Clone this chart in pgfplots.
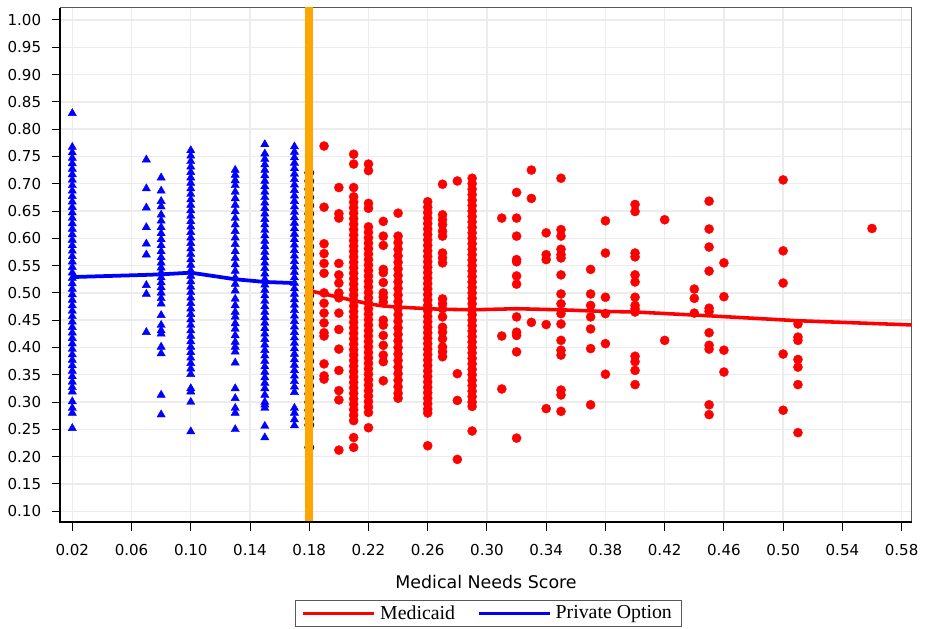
\documentclass[border=0pt]{standalone}
\usepackage{fontspec}
\setmainfont{DejaVu Sans}
\newfontfamily\legfont{Liberation Serif}
\usepackage{pgfplots}
\pgfplotsset{compat=1.18}
\definecolor{po}{RGB}{0,0,255}
\definecolor{md}{RGB}{255,0,0}
\definecolor{orng}{RGB}{255,165,0}
\begin{document}
\begin{tikzpicture}
\begin{axis}[name=ax, scale only axis, width=429.5pt, height=259.5pt,
 clip marker paths=true,
 xmin=0.012, xmax=0.5867, ymin=0.08, ymax=1.022,
 xtick={0.02,0.06,0.10,0.14,0.18,0.22,0.26,0.30,0.34,0.38,0.42,0.46,0.50,0.54,0.58},
 ytick={0.10,0.15,0.20,0.25,0.30,0.35,0.40,0.45,0.50,0.55,0.60,0.65,0.70,0.75,0.80,0.85,0.90,0.95,1.00},
 /pgf/number format/assume math mode=true,
 xticklabel style={/pgf/number format/fixed, /pgf/number format/fixed zerofill, /pgf/number format/precision=2, yshift=-3.3pt},
 yticklabel style={/pgf/number format/fixed, /pgf/number format/fixed zerofill, /pgf/number format/precision=2, xshift=-1.7pt},
 tick align=outside, tick pos=left, major tick length=4.5pt, tick style={black, line width=0.5pt},
 grid=major, major grid style={draw=gray!15, line width=0.7pt},
 axis line style={draw=gray!70!black, line width=0.5pt},
 tick label style={font=\fontsize{7.6}{9}\selectfont},
 xlabel={Medical Needs Score},
 xlabel style={font=\fontsize{8.8}{10}\selectfont, at={(axis description cs:0.5,-0.117)}, anchor=center},
 legend style={at={(axis description cs:0.503,-0.178)}, anchor=center, legend columns=2, draw=gray!70!black, line width=0.6pt, font=\legfont\fontsize{10}{11.5}\selectfont, inner xsep=3pt, inner ysep=0.3pt, /tikz/every even column/.append style={column sep=9pt}},
 legend image code/.code={\draw[#1, line width=1.8pt] (0pt,0pt) -- (36pt,0pt);},
]
\addlegendimage{md}
\addlegendentry{Medicaid}
\addlegendimage{po}
\addlegendentry{Private Option}
% Private Option points
\addplot[only marks, mark=triangle*, mark size=2.4pt, color=po, mark options={line width=0.2pt}, forget plot] coordinates {
(0.02,0.829)(0.02,0.767)(0.02,0.757)(0.02,0.747)(0.02,0.737)(0.02,0.727)(0.02,0.717)(0.02,0.707)(0.02,0.697)(0.02,0.687)(0.02,0.677)(0.02,0.667)(0.02,0.657)(0.02,0.647)(0.02,0.637)(0.02,0.627)(0.02,0.617)(0.02,0.607)(0.02,0.597)(0.02,0.587)(0.02,0.577)(0.02,0.567)(0.02,0.557)(0.02,0.547)(0.02,0.537)(0.02,0.527)(0.02,0.517)(0.02,0.507)(0.02,0.497)(0.02,0.487)(0.02,0.477)(0.02,0.467)(0.02,0.457)(0.02,0.447)(0.02,0.437)(0.02,0.427)(0.02,0.417)(0.02,0.407)(0.02,0.397)(0.02,0.387)(0.02,0.377)(0.02,0.367)(0.02,0.357)(0.02,0.347)(0.02,0.337)(0.02,0.327)(0.02,0.319)(0.02,0.301)(0.02,0.289)(0.02,0.280)(0.02,0.252)
(0.07,0.744)(0.07,0.691)(0.07,0.656)(0.07,0.620)(0.07,0.590)(0.07,0.570)(0.07,0.514)(0.07,0.498)(0.07,0.428)
(0.08,0.711)(0.08,0.687)(0.08,0.668)(0.08,0.658)(0.08,0.643)(0.08,0.632)(0.08,0.620)(0.08,0.609)(0.08,0.598)(0.08,0.587)(0.08,0.576)(0.08,0.565)(0.08,0.555)(0.08,0.546)(0.08,0.537)(0.08,0.528)(0.08,0.519)(0.08,0.510)(0.08,0.500)(0.08,0.490)(0.08,0.480)(0.08,0.459)(0.08,0.441)(0.08,0.431)(0.08,0.425)(0.08,0.401)(0.08,0.389)(0.08,0.313)(0.08,0.277)
(0.10,0.761)(0.10,0.751)(0.10,0.741)(0.10,0.731)(0.10,0.721)(0.10,0.711)(0.10,0.701)(0.10,0.691)(0.10,0.681)(0.10,0.671)(0.10,0.661)(0.10,0.651)(0.10,0.641)(0.10,0.631)(0.10,0.621)(0.10,0.611)(0.10,0.601)(0.10,0.591)(0.10,0.581)(0.10,0.571)(0.10,0.561)(0.10,0.551)(0.10,0.541)(0.10,0.531)(0.10,0.521)(0.10,0.511)(0.10,0.501)(0.10,0.491)(0.10,0.481)(0.10,0.471)(0.10,0.461)(0.10,0.451)(0.10,0.441)(0.10,0.431)(0.10,0.421)(0.10,0.411)(0.10,0.401)(0.10,0.391)(0.10,0.381)(0.10,0.371)(0.10,0.361)(0.10,0.351)(0.10,0.325)(0.10,0.319)(0.10,0.300)(0.10,0.246)
(0.13,0.725)(0.13,0.716)(0.13,0.706)(0.13,0.697)(0.13,0.685)(0.13,0.673)(0.13,0.661)(0.13,0.649)(0.13,0.637)(0.13,0.625)(0.13,0.613)(0.13,0.601)(0.13,0.589)(0.13,0.576)(0.13,0.564)(0.13,0.552)(0.13,0.540)(0.13,0.528)(0.13,0.516)(0.13,0.504)(0.13,0.489)(0.13,0.477)(0.13,0.465)(0.13,0.456)(0.13,0.444)(0.13,0.434)(0.13,0.422)(0.13,0.410)(0.13,0.401)(0.13,0.392)(0.13,0.372)(0.13,0.325)(0.13,0.307)(0.13,0.289)(0.13,0.280)(0.13,0.250)
(0.15,0.772)(0.15,0.755)(0.15,0.745)(0.15,0.735)(0.15,0.725)(0.15,0.715)(0.15,0.705)(0.15,0.695)(0.15,0.685)(0.15,0.675)(0.15,0.665)(0.15,0.655)(0.15,0.645)(0.15,0.635)(0.15,0.625)(0.15,0.615)(0.15,0.605)(0.15,0.595)(0.15,0.585)(0.15,0.575)(0.15,0.565)(0.15,0.555)(0.15,0.545)(0.15,0.535)(0.15,0.525)(0.15,0.515)(0.15,0.505)(0.15,0.495)(0.15,0.485)(0.15,0.475)(0.15,0.465)(0.15,0.455)(0.15,0.445)(0.15,0.435)(0.15,0.425)(0.15,0.415)(0.15,0.405)(0.15,0.395)(0.15,0.385)(0.15,0.375)(0.15,0.365)(0.15,0.355)(0.15,0.345)(0.15,0.335)(0.15,0.325)(0.15,0.313)(0.15,0.300)(0.15,0.295)(0.15,0.289)(0.15,0.256)(0.15,0.235)
(0.17,0.768)(0.17,0.758)(0.17,0.748)(0.17,0.738)(0.17,0.728)(0.17,0.718)(0.17,0.708)(0.17,0.698)(0.17,0.688)(0.17,0.678)(0.17,0.668)(0.17,0.658)(0.17,0.648)(0.17,0.638)(0.17,0.628)(0.17,0.618)(0.17,0.608)(0.17,0.598)(0.17,0.588)(0.17,0.578)(0.17,0.568)(0.17,0.558)(0.17,0.548)(0.17,0.538)(0.17,0.528)(0.17,0.518)(0.17,0.508)(0.17,0.498)(0.17,0.488)(0.17,0.478)(0.17,0.468)(0.17,0.458)(0.17,0.448)(0.17,0.438)(0.17,0.428)(0.17,0.418)(0.17,0.408)(0.17,0.398)(0.17,0.388)(0.17,0.378)(0.17,0.368)(0.17,0.358)(0.17,0.348)(0.17,0.338)(0.17,0.328)(0.17,0.318)(0.17,0.289)(0.17,0.280)(0.17,0.268)(0.17,0.257)
};
% faint Medicaid points at the cutoff
\addplot[only marks, mark=*, mark size=2.3pt, mark options={draw=none, fill=md!25}, forget plot] coordinates {
(0.18,0.720)(0.18,0.705)(0.18,0.690)(0.18,0.675)(0.18,0.660)(0.18,0.645)(0.18,0.630)(0.18,0.615)(0.18,0.600)(0.18,0.585)(0.18,0.570)(0.18,0.555)(0.18,0.540)(0.18,0.525)(0.18,0.510)(0.18,0.495)(0.18,0.480)(0.18,0.465)(0.18,0.450)(0.18,0.435)(0.18,0.420)(0.18,0.405)(0.18,0.390)(0.18,0.375)(0.18,0.360)(0.18,0.345)(0.18,0.330)(0.18,0.315)(0.18,0.300)(0.18,0.285)(0.18,0.270)(0.18,0.258)(0.18,0.217)
};
% Medicaid points
\addplot[only marks, mark=*, mark size=2.3pt, color=md, mark options={line width=0.2pt}, forget plot] coordinates {
(0.19,0.769)(0.19,0.657)(0.19,0.590)(0.19,0.572)(0.19,0.554)(0.19,0.536)(0.19,0.500)(0.19,0.481)(0.19,0.463)(0.19,0.445)(0.19,0.427)(0.19,0.421)(0.19,0.370)(0.19,0.348)(0.19,0.342)
(0.20,0.693)(0.20,0.645)(0.20,0.637)(0.20,0.554)(0.20,0.533)(0.20,0.518)(0.20,0.500)(0.20,0.491)(0.20,0.463)(0.20,0.433)(0.20,0.397)(0.20,0.358)(0.20,0.321)(0.20,0.304)(0.20,0.212)
(0.21,0.754)(0.21,0.736)(0.21,0.693)(0.21,0.676)(0.21,0.666)(0.21,0.656)(0.21,0.646)(0.21,0.636)(0.21,0.626)(0.21,0.616)(0.21,0.606)(0.21,0.596)(0.21,0.586)(0.21,0.576)(0.21,0.566)(0.21,0.556)(0.21,0.546)(0.21,0.536)(0.21,0.526)(0.21,0.516)(0.21,0.506)(0.21,0.496)(0.21,0.486)(0.21,0.476)(0.21,0.466)(0.21,0.456)(0.21,0.446)(0.21,0.436)(0.21,0.426)(0.21,0.416)(0.21,0.406)(0.21,0.396)(0.21,0.386)(0.21,0.376)(0.21,0.366)(0.21,0.356)(0.21,0.346)(0.21,0.336)(0.21,0.326)(0.21,0.316)(0.21,0.306)(0.21,0.296)(0.21,0.286)(0.21,0.276)(0.21,0.266)(0.21,0.235)(0.21,0.217)
(0.22,0.736)(0.22,0.724)(0.22,0.664)(0.22,0.655)(0.22,0.621)(0.22,0.611)(0.22,0.601)(0.22,0.591)(0.22,0.581)(0.22,0.571)(0.22,0.561)(0.22,0.551)(0.22,0.541)(0.22,0.531)(0.22,0.521)(0.22,0.511)(0.22,0.501)(0.22,0.491)(0.22,0.481)(0.22,0.471)(0.22,0.461)(0.22,0.451)(0.22,0.441)(0.22,0.431)(0.22,0.421)(0.22,0.411)(0.22,0.401)(0.22,0.391)(0.22,0.381)(0.22,0.371)(0.22,0.361)(0.22,0.351)(0.22,0.341)(0.22,0.331)(0.22,0.321)(0.22,0.311)(0.22,0.301)(0.22,0.291)(0.22,0.281)(0.22,0.253)
(0.23,0.631)(0.23,0.604)(0.23,0.587)(0.23,0.543)(0.23,0.537)(0.23,0.519)(0.23,0.500)(0.23,0.492)(0.23,0.483)(0.23,0.450)(0.23,0.441)(0.23,0.422)(0.23,0.404)(0.23,0.386)(0.23,0.374)(0.23,0.339)
(0.24,0.646)(0.24,0.604)(0.24,0.592)(0.24,0.580)(0.24,0.568)(0.24,0.556)(0.24,0.544)(0.24,0.532)(0.24,0.520)(0.24,0.508)(0.24,0.496)(0.24,0.484)(0.24,0.472)(0.24,0.460)(0.24,0.448)(0.24,0.436)(0.24,0.424)(0.24,0.412)(0.24,0.400)(0.24,0.388)(0.24,0.376)(0.24,0.364)(0.24,0.352)(0.24,0.340)(0.24,0.328)(0.24,0.316)(0.24,0.307)
(0.26,0.667)(0.26,0.657)(0.26,0.647)(0.26,0.637)(0.26,0.627)(0.26,0.617)(0.26,0.607)(0.26,0.597)(0.26,0.587)(0.26,0.577)(0.26,0.567)(0.26,0.557)(0.26,0.547)(0.26,0.537)(0.26,0.527)(0.26,0.517)(0.26,0.507)(0.26,0.497)(0.26,0.487)(0.26,0.477)(0.26,0.467)(0.26,0.457)(0.26,0.447)(0.26,0.437)(0.26,0.427)(0.26,0.417)(0.26,0.407)(0.26,0.397)(0.26,0.387)(0.26,0.377)(0.26,0.367)(0.26,0.357)(0.26,0.347)(0.26,0.337)(0.26,0.327)(0.26,0.317)(0.26,0.307)(0.26,0.297)(0.26,0.287)(0.26,0.280)(0.26,0.220)
(0.27,0.699)(0.27,0.643)(0.27,0.634)(0.27,0.625)(0.27,0.613)(0.27,0.604)(0.27,0.573)(0.27,0.564)(0.27,0.555)(0.27,0.489)(0.27,0.480)(0.27,0.471)(0.27,0.456)(0.27,0.437)(0.27,0.428)(0.27,0.416)(0.27,0.401)(0.27,0.392)(0.27,0.383)
(0.28,0.705)(0.28,0.352)(0.28,0.303)(0.28,0.195)
(0.29,0.710)(0.29,0.700)(0.29,0.690)(0.29,0.680)(0.29,0.670)(0.29,0.660)(0.29,0.650)(0.29,0.640)(0.29,0.630)(0.29,0.620)(0.29,0.610)(0.29,0.600)(0.29,0.590)(0.29,0.580)(0.29,0.570)(0.29,0.560)(0.29,0.550)(0.29,0.540)(0.29,0.530)(0.29,0.520)(0.29,0.510)(0.29,0.500)(0.29,0.490)(0.29,0.480)(0.29,0.470)(0.29,0.460)(0.29,0.450)(0.29,0.440)(0.29,0.430)(0.29,0.420)(0.29,0.410)(0.29,0.400)(0.29,0.390)(0.29,0.380)(0.29,0.370)(0.29,0.360)(0.29,0.350)(0.29,0.340)(0.29,0.330)(0.29,0.320)(0.29,0.310)(0.29,0.300)(0.29,0.292)(0.29,0.247)
(0.31,0.637)(0.31,0.421)(0.31,0.324)
(0.32,0.684)(0.32,0.637)(0.32,0.604)(0.32,0.561)(0.32,0.557)(0.32,0.531)(0.32,0.516)(0.32,0.456)(0.32,0.428)(0.32,0.422)(0.32,0.392)(0.32,0.234)
(0.33,0.725)(0.33,0.673)(0.33,0.446)
(0.34,0.610)(0.34,0.570)(0.34,0.561)(0.34,0.442)(0.34,0.288)
(0.35,0.710)(0.35,0.616)(0.35,0.604)(0.35,0.580)(0.35,0.570)(0.35,0.564)(0.35,0.533)(0.35,0.498)(0.35,0.480)(0.35,0.462)(0.35,0.443)(0.35,0.413)(0.35,0.395)(0.35,0.386)(0.35,0.322)(0.35,0.313)(0.35,0.283)
(0.37,0.543)(0.37,0.498)(0.37,0.477)(0.37,0.456)(0.37,0.434)(0.37,0.398)(0.37,0.295)
(0.38,0.632)(0.38,0.573)(0.38,0.492)(0.38,0.462)(0.38,0.407)(0.38,0.351)
(0.40,0.662)(0.40,0.649)(0.40,0.573)(0.40,0.566)(0.40,0.533)(0.40,0.520)(0.40,0.492)(0.40,0.477)(0.40,0.471)(0.40,0.465)(0.40,0.384)(0.40,0.374)(0.40,0.358)(0.40,0.332)
(0.42,0.634)(0.42,0.413)
(0.44,0.507)(0.44,0.490)(0.44,0.463)
(0.45,0.668)(0.45,0.617)(0.45,0.584)(0.45,0.540)(0.45,0.472)(0.45,0.466)(0.45,0.427)(0.45,0.404)(0.45,0.397)(0.45,0.295)(0.45,0.277)
(0.46,0.555)(0.46,0.493)(0.46,0.395)(0.46,0.355)
(0.50,0.707)(0.50,0.577)(0.50,0.518)(0.50,0.388)(0.50,0.285)
(0.51,0.443)(0.51,0.419)(0.51,0.413)(0.51,0.378)(0.51,0.364)(0.51,0.332)(0.51,0.244)
(0.56,0.618)
};
% fitted lines
\addplot[po, line width=1.9pt, forget plot] coordinates {
(0.02,0.529)(0.07,0.533)(0.08,0.534)(0.10,0.537)(0.13,0.525)(0.15,0.520)(0.17,0.518)};
\addplot[md, line width=1.8pt, forget plot] coordinates {
(0.18,0.504)(0.19,0.498)(0.20,0.492)(0.21,0.486)(0.22,0.480)(0.23,0.476)(0.24,0.474)(0.26,0.471)(0.27,0.470)(0.29,0.469)(0.32,0.471)(0.35,0.469)(0.38,0.466)(0.40,0.465)(0.45,0.458)(0.51,0.449)(0.56,0.444)(0.59,0.441)};
% cutoff
\addplot[orng, line width=3.8pt, forget plot] coordinates {(0.18,0.07)(0.18,1.03)};
\end{axis}
\draw[black, line width=1pt] (ax.north west) -- (ax.south west) -- (ax.south east);
\path ([xshift=-30.5pt,yshift=-53.5pt]ax.south west) rectangle ([xshift=2.5pt,yshift=4pt]ax.north east);
\end{tikzpicture}
\end{document}
